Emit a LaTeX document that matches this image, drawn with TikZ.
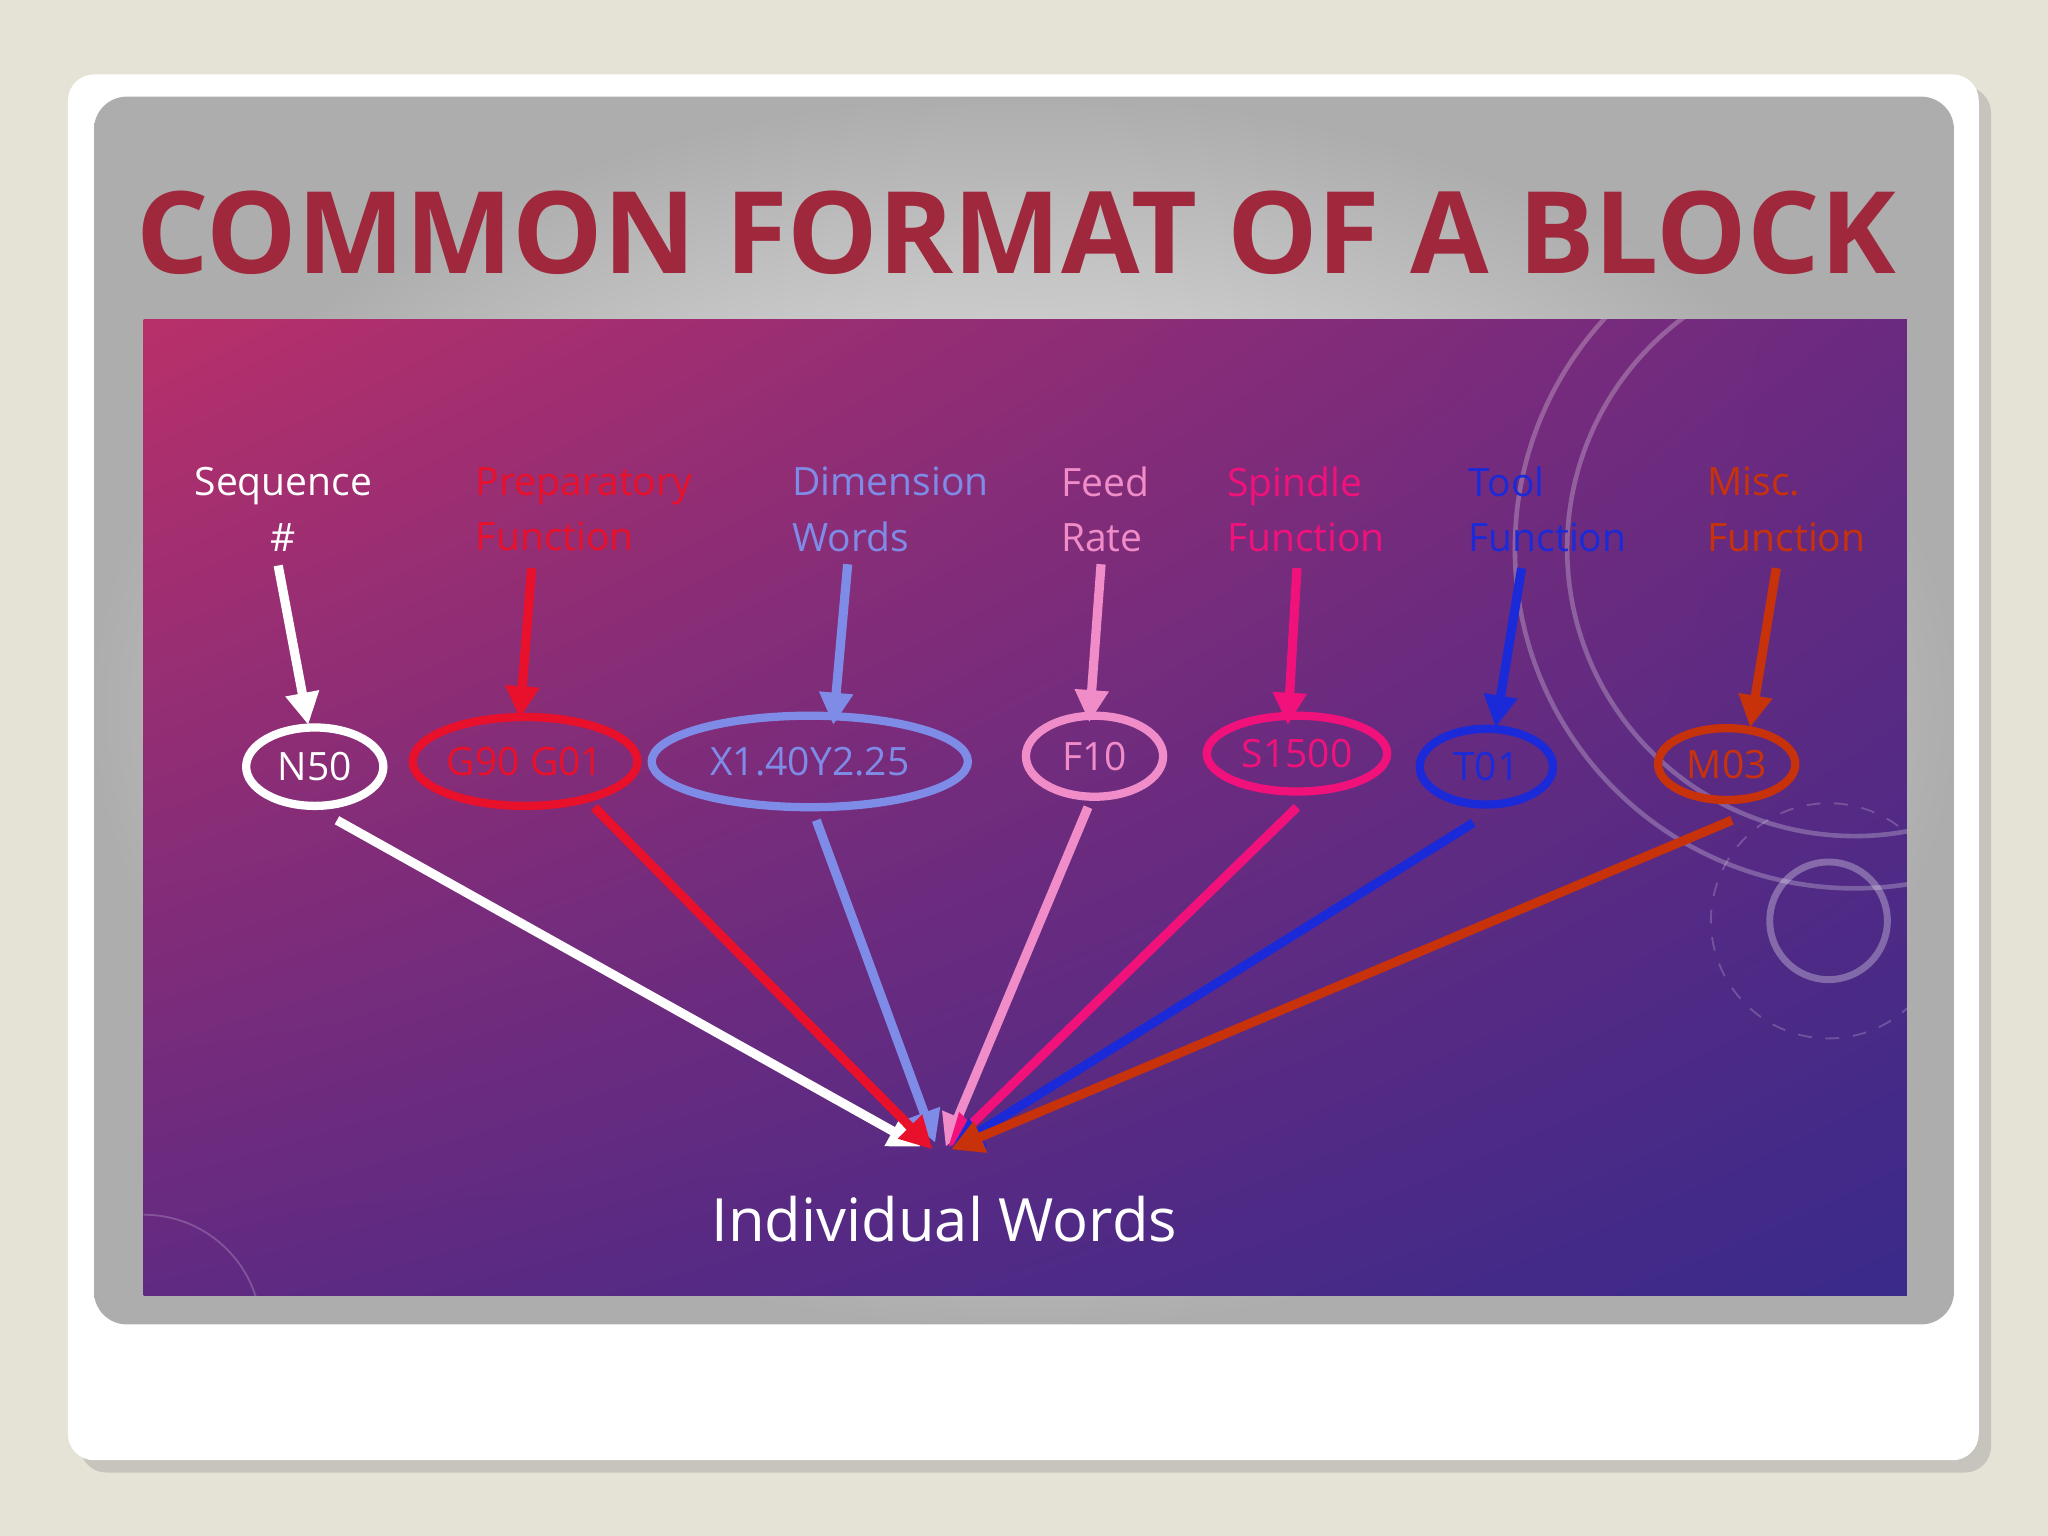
\documentclass[tikz,border=0pt]{standalone}
\usepackage{fontspec}
\setmainfont{Open Sans}
\usetikzlibrary{shapes.geometric,arrows.meta,shadows,shadings}
\definecolor{bgc}{HTML}{E5E2D6}
\definecolor{ttl}{HTML}{A0283C}
\definecolor{cW}{HTML}{FFFFFF}
\definecolor{cR}{HTML}{E8102A}
\definecolor{cD}{HTML}{7E8CE8}
\definecolor{cF}{HTML}{F08CC8}
\definecolor{cS}{HTML}{F0127A}
\definecolor{cT}{HTML}{1A2AD8}
\definecolor{cM}{HTML}{C8320A}
\definecolor{pA}{HTML}{B8306A}
\definecolor{pB}{HTML}{6A2A80}
\definecolor{pC}{HTML}{3A2A8A}
\tikzset{
 lbl/.style={font=\fontsize{8.5}{12}\selectfont, align=left, anchor=west},
 ell/.style={ellipse, draw, line width=1.8pt, inner sep=0pt, font=\fontsize{8.5}{10}\selectfont},
 arr/.style={line width=2pt, -{Triangle[length=7pt,width=7pt]}}
}
\begin{document}
\begin{tikzpicture}[x=0.01cm,y=-0.01cm]
\fill[bgc] (0,0) rectangle (1568,1176);
\useasboundingbox (0,0) rectangle (1568,1176);
\fill[white, rounded corners=0.2cm, drop shadow={opacity=0.3}] (52,57) rectangle (1515,1118);
\shade[rounded corners=0.25cm, inner color=white, outer color=black!32] (72,74) rectangle (1496,1014);
\node[text=ttl, font=\fontsize{24.8}{28}\selectfont\bfseries] (title) at (778,178) {COMMON FORMAT OF A BLOCK};
\shade[upper left=pA, upper right=pB, lower left=pB!80!pC, lower right=pC] (110,245) rectangle (1460,992);
\begin{scope}
\clip (110,245) rectangle (1460,992);
\draw[white, opacity=0.25, line width=1pt] (1420,420) circle (2.2cm);
\draw[white, opacity=0.25, line width=1pt] (1420,420) circle (2.6cm);
\draw[white, opacity=0.3, line width=1.5pt] (1400,705) circle (0.45cm);
\draw[white, opacity=0.2, dashed] (1400,705) circle (0.9cm);
\draw[white, opacity=0.2] (110,930) arc (90:0:0.9cm);
\end{scope}
% labels
\node[font=\fontsize{8.5}{12}\selectfont, align=center, text=cW] (l1) at (217,390) {Sequence\\\#};
\node[lbl, text=cR] (l2) at (352,390) {Preparatory\\Function};
\node[lbl, text=cD] (l3) at (594,390) {Dimension\\Words};
\node[lbl, text=cF] (l4) at (800,390) {Feed\\Rate};
\node[lbl, text=cS] (l5) at (927,390) {Spindle\\Function};
\node[lbl, text=cT] (l6) at (1112,390) {Tool\\Function};
\node[lbl, text=cM] (l7) at (1295,390) {Misc.\\Function};
% ellipses
\node[ell, draw=cW, text=cW, minimum width=1.05cm, minimum height=0.6cm] (e1) at (241,587) {N50};
\node[ell, draw=cR, text=cR, minimum width=1.72cm, minimum height=0.68cm] (e2) at (402,583) {G90 G01};
\node[ell, draw=cD, text=cD, minimum width=2.42cm, minimum height=0.7cm] (e3) at (620,583) {X1.40Y2.25};
\node[ell, draw=cF, text=cF, minimum width=1.05cm, minimum height=0.62cm] (e4) at (838,579) {F10};
\node[ell, draw=cS, text=cS, minimum width=1.38cm, minimum height=0.58cm] (e5) at (993,577) {S1500};
\node[ell, draw=cT, text=cT, minimum width=1.02cm, minimum height=0.58cm] (e6) at (1138,587) {T01};
\node[ell, draw=cM, text=cM, minimum width=1.05cm, minimum height=0.55cm] (e7) at (1322,585) {M03};
\coordinate (t1) at (213,433); \coordinate (h1) at (236,555);
\coordinate (t2) at (407,435); \coordinate (h2) at (398,550);
\coordinate (t3) at (649,432); \coordinate (h3) at (638,555);
\coordinate (t4) at (843,432); \coordinate (h4) at (834,553);
\coordinate (t5) at (993,435); \coordinate (h5) at (986,555);
\coordinate (t6) at (1165,435); \coordinate (h6) at (1145,557);
\coordinate (t7) at (1360,435); \coordinate (h7) at (1340,557);
\draw[arr, cW] (t1) -- (h1);
\draw[arr, cR] (t2) -- (h2);
\draw[arr, cD] (t3) -- (h3);
\draw[arr, cF] (t4) -- (h4);
\draw[arr, cS] (t5) -- (h5);
\draw[arr, cT] (t6) -- (h6);
\draw[arr, cM] (t7) -- (h7);
% to bottom
\coordinate (b1) at (258,628); \coordinate (b2) at (455,618); \coordinate (b3) at (625,628);
\coordinate (b4) at (833,618); \coordinate (b5) at (993,618); \coordinate (b6) at (1128,630); \coordinate (b7) at (1326,628);
\coordinate (c1) at (705,878); \coordinate (c2) at (714,880); \coordinate (c3) at (716,875);
\coordinate (c4) at (724,878); \coordinate (c5) at (726,878); \coordinate (c6) at (728,880); \coordinate (c7) at (728,880);
\draw[arr, cW] (b1) -- (c1);
\draw[arr, cD] (b3) -- (c3);
\draw[arr, cF] (b4) -- (c4);
\draw[arr, cR] (b2) -- (c2);
\draw[arr, cS] (b5) -- (c5);
\draw[arr, cT] (b6) -- (c6);
\draw[arr, cM] (b7) -- (c7);
\node[text=white, font=\fontsize{13}{15}\selectfont] (iw) at (723,933) {Individual Words};
\end{tikzpicture}
\end{document}
